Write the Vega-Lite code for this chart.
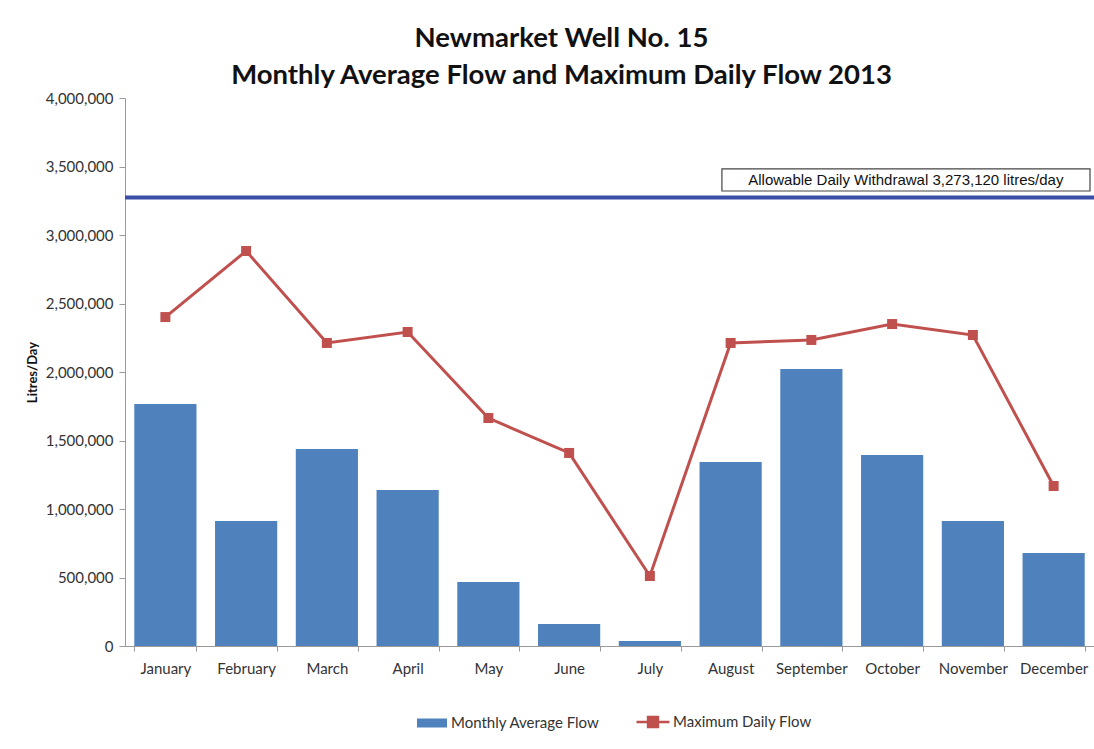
{
  "$schema": "https://vega.github.io/schema/vega-lite/v6.json",
  "autosize": "none",
  "width": 969,
  "height": 548,
  "padding": {"left": 125, "top": 98, "right": 0, "bottom": 103},
  "background": "white",
  "title": {
    "text": ["Newmarket Well No. 15", "Monthly Average Flow and Maximum Daily Flow 2013"],
    "font": "Lato",
    "fontSize": 27.5,
    "fontWeight": "bold",
    "color": "#111111",
    "anchor": "middle",
    "frame": "group",
    "dx": -48,
    "offset": 2,
    "lineHeight": 37
  },
  "config": {
    "view": {"stroke": null},
    "axis": {"labelFont": "Lato", "labelFontSize": 15, "labelColor": "#333333", "domainColor": "#9a9a9a", "tickColor": "#9a9a9a", "grid": false, "titleFont": "Lato"},
    "legend": {"labelFont": "Lato", "labelFontSize": 15, "labelColor": "#333333"}
  },
  "datasets": {
    "flow": [
      {"month": "January", "avg": 1766000, "max": 2401000},
      {"month": "February", "avg": 912000, "max": 2883000},
      {"month": "March", "avg": 1438000, "max": 2212000},
      {"month": "April", "avg": 1139000, "max": 2292000},
      {"month": "May", "avg": 467000, "max": 1664000},
      {"month": "June", "avg": 160000, "max": 1409000},
      {"month": "July", "avg": 36000, "max": 511000},
      {"month": "August", "avg": 1343000, "max": 2212000},
      {"month": "September", "avg": 2022000, "max": 2234000},
      {"month": "October", "avg": 1394000, "max": 2350000},
      {"month": "November", "avg": 912000, "max": 2270000},
      {"month": "December", "avg": 679000, "max": 1168000}
    ],
    "limit": [
      {"label": "Allowable Daily Withdrawal 3,273,120 litres/day", "limit": 3273120}
    ]
  },
  "layer": [
    {
      "data": {"name": "flow"},
      "mark": {"type": "bar", "color": "#4f81bd"},
      "encoding": {
        "x": {
          "field": "month", "type": "nominal", "sort": null,
          "scale": {"paddingInner": 0.23, "paddingOuter": 0.115},
          "axis": {"title": null, "labelAngle": 0, "tickBand": "extent", "tickSize": 5, "labelPadding": 10}
        },
        "y": {
          "field": "avg", "type": "quantitative",
          "scale": {"domain": [0, 4000000], "nice": false},
          "axis": {"title": "Litres/Day", "titleFontSize": 13, "titleFontWeight": "bold", "titleColor": "#111111", "titlePadding": 6, "format": ",d", "values": [0, 500000, 1000000, 1500000, 2000000, 2500000, 3000000, 3500000, 4000000], "tickSize": 6, "labelPadding": 6}
        },
        "fill": {
          "datum": "Monthly Average Flow",
          "scale": {"domain": ["Monthly Average Flow"], "range": ["#4f81bd"]},
          "legend": {"title": null, "orient": "none", "legendX": 292, "legendY": 610, "symbolType": "M-1,-0.3H1V0.3H-1Z", "symbolSize": 900, "symbolStrokeWidth": 0, "labelOffset": 4}
        }
      }
    },
    {
      "data": {"name": "flow"},
      "mark": {"type": "line", "strokeWidth": 3},
      "encoding": {
        "x": {"field": "month", "type": "nominal", "sort": null},
        "y": {"field": "max", "type": "quantitative"},
        "stroke": {
          "datum": "Maximum Daily Flow",
          "scale": {"domain": ["Maximum Daily Flow"], "range": ["#c0504d"]},
          "legend": {"title": null, "orient": "none", "legendX": 510, "legendY": 606, "symbolType": "M-1,0H1M-0.3,-0.3H0.3V0.3H-0.3Z", "symbolSize": 1089, "symbolStrokeWidth": 2.5, "symbolFillColor": "#c0504d", "labelOffset": 2}
        }
      }
    },
    {
      "data": {"name": "flow"},
      "mark": {"type": "point", "shape": "square", "filled": true, "size": 100, "color": "#c0504d", "opacity": 1},
      "encoding": {
        "x": {"field": "month", "type": "nominal", "sort": null},
        "y": {"field": "max", "type": "quantitative"}
      }
    },
    {
      "data": {"name": "limit"},
      "mark": {"type": "rule", "color": "#3a4ea6", "strokeWidth": 4},
      "encoding": {"y": {"field": "limit", "type": "quantitative"}}
    },
    {
      "data": {"name": "limit"},
      "mark": {"type": "rect", "fill": "white", "stroke": "#444444", "strokeWidth": 1.2},
      "encoding": {
        "x": {"datum": "August", "type": "nominal", "bandPosition": 0.36},
        "x2": {"datum": "December", "bandPosition": 1.085},
        "y": {"datum": 3482000, "type": "quantitative"},
        "y2": {"datum": 3321000}
      }
    },
    {
      "data": {"name": "limit"},
      "mark": {"type": "text", "font": "Liberation Sans", "fontSize": 15, "color": "#111111", "align": "center", "baseline": "middle"},
      "encoding": {
        "x": {"datum": "October", "type": "nominal", "bandPosition": 0.72},
        "y": {"datum": 3400000, "type": "quantitative"},
        "text": {"field": "label"}
      }
    }
  ]
}
